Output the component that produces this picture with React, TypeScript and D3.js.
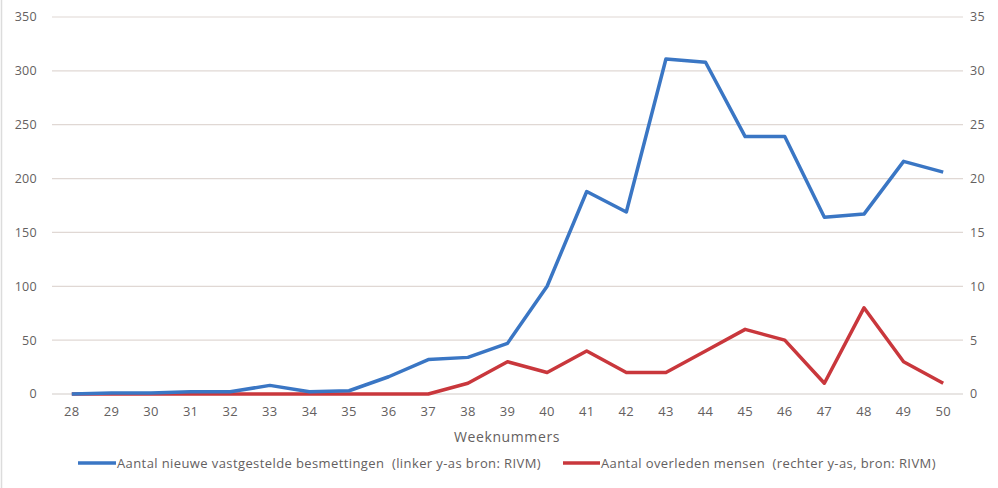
import React from "react";
import * as d3 from "d3";

// Week numbers on the x-axis
const weeks: string[] = ["28","29","30","31","32","33","34","35","36","37","38","39","40","41","42","43","44","45","46","47","48","49","50"];

// New confirmed infections per week (left axis)
const infections: number[] = [0, 1, 1, 2, 2, 8, 2, 3, 16, 32, 34, 47, 100, 188, 169, 311, 308, 239, 239, 164, 167, 216, 206];

// Deaths per week (right axis)
const deaths: number[] = [0, 0, 0, 0, 0, 0, 0, 0, 0, 0, 1, 3, 2, 4, 2, 2, 4, 6, 5, 1, 8, 3, 1];

const leftTicks: number[] = [0, 50, 100, 150, 200, 250, 300, 350];
const rightTicks: number[] = [0, 5, 10, 15, 20, 25, 30, 35];

const legendLabels: string[] = [
  "Aantal nieuwe vastgestelde besmettingen  (linker y-as bron: RIVM)",
  "Aantal overleden mensen  (rechter y-as, bron: RIVM)",
];
const xTitle = "Weeknummers";

const W = 998;
const H = 488;
const margin = { left: 52, right: 35, top: 17, bottom: 94 };
const BLUE = "#3a76c4";
const RED = "#c9373c";
const TEXT = "#646060";
const FONT = "'Open Sans', 'DejaVu Sans', sans-serif";

export default function App() {
  const x = d3
    .scaleBand<string>()
    .domain(weeks)
    .range([margin.left, W - margin.right]);
  const cx = (w: string) => (x(w) as number) + x.bandwidth() / 2;
  const yL = d3.scaleLinear().domain([0, 350]).range([H - margin.bottom, margin.top]);
  const yR = d3.scaleLinear().domain([0, 35]).range([H - margin.bottom, margin.top]);

  const lineL = d3
    .line<number>()
    .x((_, i) => cx(weeks[i]))
    .y((d) => yL(d));
  const lineR = d3
    .line<number>()
    .x((_, i) => cx(weeks[i]))
    .y((d) => yR(d));

  const baseY = yL(0);

  return (
    <svg
      width={W}
      height={H}
      style={{ position: "absolute", left: 0, top: 0, background: "#fff" }}
      fontFamily={FONT}
    >
      <rect x={0} y={0} width={W} height={H} fill="#fff" />
      <line x1={1.5} x2={1.5} y1={0} y2={H} stroke="#dcdcdc" strokeWidth={1.5} />

      {/* horizontal gridlines */}
      {leftTicks.map((t) => (
        <line
          key={"g" + t}
          x1={margin.left}
          x2={W - margin.right}
          y1={yL(t)}
          y2={yL(t)}
          stroke={t === 0 ? "#d2cbc8" : "#e0d8d4"}
          strokeWidth={1.2}
        />
      ))}

      {/* left axis labels */}
      {leftTicks.map((t) => (
        <text
          key={"l" + t}
          x={37}
          y={yL(t)}
          dy="0.35em"
          textAnchor="end"
          fontSize={12.5}
          letterSpacing={0.3}
          fill={TEXT}
        >
          {t}
        </text>
      ))}

      {/* right axis labels */}
      {rightTicks.map((t) => (
        <text
          key={"r" + t}
          x={970}
          y={yR(t)}
          dy="0.35em"
          textAnchor="start"
          fontSize={12.5}
          letterSpacing={0.3}
          fill={TEXT}
        >
          {t}
        </text>
      ))}

      {/* x-axis labels */}
      {weeks.map((w) => (
        <text
          key={"x" + w}
          x={cx(w)}
          y={baseY + 17}
          dy="0.35em"
          textAnchor="middle"
          fontSize={13}
          letterSpacing={0.3}
          fill={TEXT}
        >
          {w}
        </text>
      ))}
      <text x={507} y={437} dy="0.35em" textAnchor="middle" fontSize={14} letterSpacing={0.6} fill={TEXT}>
        {xTitle}
      </text>

      {/* series */}
      <path d={lineR(deaths) as string} fill="none" stroke={RED} strokeWidth={3.5} strokeLinejoin="round" />
      <path d={lineL(infections) as string} fill="none" stroke={BLUE} strokeWidth={3.5} strokeLinejoin="round" />

      {/* legend */}
      <line x1={78} x2={116} y1={463} y2={463} stroke={BLUE} strokeWidth={3.5} />
      <text x={117} y={463} dy="0.35em" fontSize={13} letterSpacing={0.4} fill={TEXT} style={{ whiteSpace: "pre" }}>
        {legendLabels[0]}
      </text>
      <line x1={563} x2={600} y1={463} y2={463} stroke={RED} strokeWidth={3.5} />
      <text x={601} y={463} dy="0.35em" fontSize={13} letterSpacing={0.4} fill={TEXT} style={{ whiteSpace: "pre" }}>
        {legendLabels[1]}
      </text>
    </svg>
  );
}
